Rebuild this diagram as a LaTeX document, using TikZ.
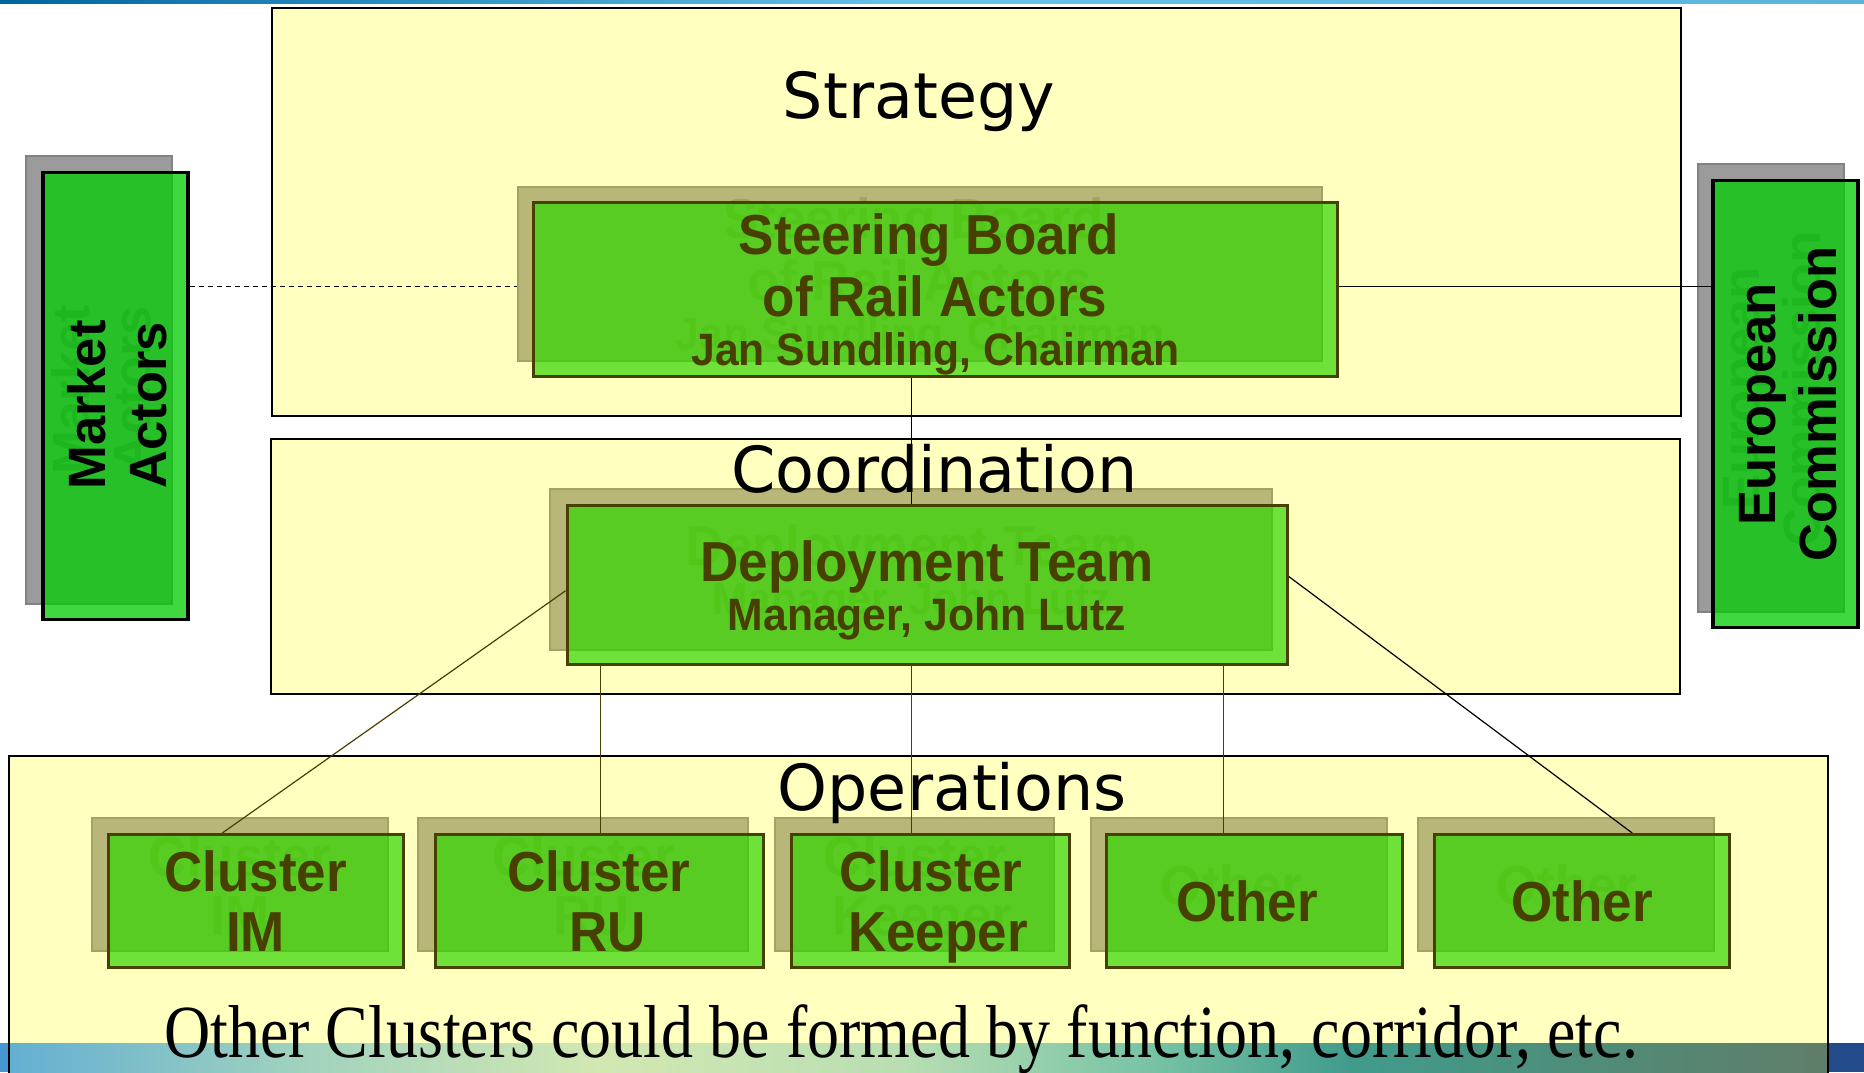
\documentclass[tikz,border=0pt]{standalone}
\usepackage{fontspec}
\setmainfont{Liberation Sans}
\newfontfamily\lblfont{DejaVu Sans}
\newfontfamily\cndfont[FakeStretch=0.94]{Liberation Sans}
\newfontfamily\mktfont{Liberation Sans}
\newfontfamily\tmsfont[FakeStretch=0.853]{Liberation Serif}
\usetikzlibrary{fit,calc}
\definecolor{tieryel}{RGB}{255,255,192}
\definecolor{railgreen}{RGB}{49,214,0}
\definecolor{railedge}{RGB}{72,64,0}
\definecolor{railshadow}{RGB}{184,182,120}
\definecolor{railshadowedge}{RGB}{165,163,100}
\definecolor{ghostolive}{RGB}{160,165,90}
\definecolor{mktgreen}{RGB}{4,204,4}
\definecolor{mktshadow}{RGB}{155,155,155}
\definecolor{mktshadowedge}{RGB}{130,130,130}
\definecolor{ghostgray}{RGB}{118,118,118}
\definecolor{tbA}{RGB}{0,100,160}
\definecolor{tbB}{RGB}{100,195,230}
\definecolor{tbC}{RGB}{90,180,220}
\definecolor{bb0}{RGB}{70,150,210}
\definecolor{bb1}{RGB}{100,175,210}
\definecolor{bb2}{RGB}{160,210,190}
\definecolor{bb3}{RGB}{210,232,178}
\definecolor{bb4}{RGB}{185,222,178}
\definecolor{bb5}{RGB}{120,195,165}
\definecolor{bb6}{RGB}{65,155,140}
\definecolor{bb7}{RGB}{80,140,120}
\definecolor{bb8}{RGB}{95,125,105}
\definecolor{bb9}{RGB}{35,75,140}
\pgfdeclarelayer{back}
\pgfdeclarelayer{shad}
\pgfdeclarelayer{conn}
\pgfsetlayers{back,shad,conn,main}
\tikzset{
  tier/.style={draw=black, line width=0.9pt, fill=tieryel, inner sep=0pt},
  tierlbl/.style={font=\lblfont\fontsize{31.75}{36}\selectfont, anchor=base, inner sep=0pt},
  railshad/.style={draw=railshadowedge, line width=1pt, fill=railshadow, inner sep=0pt},
  railbox/.style={draw=railedge, line width=1.5pt, fill=railgreen, fill opacity=0.7, inner sep=0pt},
  mktshad/.style={draw=mktshadowedge, line width=1pt, fill=mktshadow, inner sep=0pt},
  mktbox/.style={draw=black, line width=1.7pt, fill=mktgreen, fill opacity=0.76, inner sep=0pt},
  bigt/.style={font=\cndfont\bfseries\fontsize{28.2}{32}\selectfont, text=railedge, anchor=base, inner sep=0pt},
  smallt/.style={font=\cndfont\bfseries\fontsize{22.7}{26}\selectfont, text=railedge, anchor=base, inner sep=0pt},
  gbigt/.style={bigt, text=ghostolive},
  gsmallt/.style={smallt, text=ghostolive},
  mktt/.style={font=\mktfont\bfseries\fontsize{26.25}{30.5}\selectfont, text=black, rotate=90, align=center, inner sep=0pt},
  gmktt/.style={mktt, text=ghostgray},
  conn/.style={draw=black, line width=0.6pt},
  oconn/.style={draw=railedge, line width=0.6pt},
  dashconn/.style={draw=black, line width=0.6pt, dash pattern=on 2.5pt off 2pt},
  noteT/.style={font=\tmsfont\fontsize{37.5}{40}\selectfont, anchor=base, inner sep=0pt}
}
\begin{document}
\begin{tikzpicture}[x=0.5pt,y=-0.5pt]
\useasboundingbox (0,0) rectangle (1864,1072);
\begin{pgfonlayer}{back}
\fill[white] (0,0) rectangle (1864,1072);
\shade[left color=tbA, right color=tbB] (0,0) rectangle (900,3);
\shade[left color=tbB, right color=tbC] (900,0) rectangle (1864,3);
\node[tier, fit={(272.2,8.3) (1681,416)}] (strat) {};
\node[tier, fit={(271,438.7) (1679.7,694.2)}] (coord) {};
\node[tier, draw=none, fit={(9.5,757.2) (1827.2,1080)}] (ops) {};
% bottom band
\fill[bb0] (0,1043) rectangle (9.5,1072);
\shade[left color=bb1, right color=bb2] (9.5,1043) rectangle (300,1072);
\shade[left color=bb2, right color=bb3] (300,1043) rectangle (600,1072);
\shade[left color=bb3, right color=bb4] (600,1043) rectangle (900,1072);
\shade[left color=bb4, right color=bb5] (900,1043) rectangle (1150,1072);
\shade[left color=bb5, right color=bb6] (1150,1043) rectangle (1350,1072);
\shade[left color=bb6, right color=bb7] (1350,1043) rectangle (1600,1072);
\shade[left color=bb7, right color=bb8] (1600,1043) rectangle (1827.2,1072);
\fill[bb9] (1827.2,1043) rectangle (1864,1072);
\draw[black, line width=0.9pt] (ops.south west) -- (ops.north west) -- (ops.north east) -- (ops.south east);
\end{pgfonlayer}

\node[tierlbl] (stratlbl) at (919,118.9) {Strategy};
\node[tierlbl] (coordlbl) at (934.4,492) {Coordination};
\node[tierlbl] (opslbl) at (952.2,810.7) {Operations};

% shadows with their faint text
\begin{pgfonlayer}{shad}
\node[mktshad, fit={(26.2,155.7) (172.4,603.9)}] (mktsh) {};
\node[gmktt] (mktghost) at (101.5,389.5) {Market\\Actors};
\node[mktshad, fit={(1697.6,164) (1843.8,612.2)}] (ecsh) {};
\node[gmktt] (ecghost) at (1772.5,388.5) {European\\Commission};
\node[railshad, fit={(518.3,186.6) (1321.9,361.4)}] (steersh) {};
\node[gbigt] (sg1) at (913.5,238.9) {Steering Board};
\node[gbigt] (sg2) at (919.5,300.7) {of Rail Actors};
\node[gsmallt] (sg3) at (920.1,349.5) {Jan Sundling, Chairman};
\node[railshad, fit={(550.4,488.6) (1272,650.3)}] (depsh) {};
\node[gbigt] (dg1) at (911.5,565.8) {Deployment Team};
\node[gsmallt] (dg2) at (911.5,614.5) {Manager, John Lutz};
\node[railshad, fit={(91.5,817.9) (387.5,951)}] (imsh) {};
\node[gbigt] (img1) at (240.1,876.1) {Cluster};
\node[gbigt] (img2) at (240.1,935.5) {IM};
\node[railshad, fit={(418.4,817.9) (747.7,951)}] (rush) {};
\node[gbigt] (rug1) at (583.5,876.1) {Cluster};
\node[gbigt] (rug2) at (592,935.5) {RU};
\node[railshad, fit={(775.1,817.9) (1054.4,951)}] (kpsh) {};
\node[gbigt] (kpg1) at (915.3,876.1) {Cluster};
\node[gbigt] (kpg2) at (922.5,935.5) {Keeper};
\node[railshad, fit={(1091.3,817.9) (1387.3,951)}] (o1sh) {};
\node[gbigt] (o1g) at (1231.5,905.8) {Other};
\node[railshad, fit={(1418.2,817.9) (1714.2,951)}] (o2sh) {};
\node[gbigt] (o2g) at (1566.8,905.8) {Other};
\end{pgfonlayer}

% side actors
\node[mktbox, fit={(42.8,172.4) (187.8,619.4)}] (mkt) {};
\node[mktt] (mkttext) at (117,405) {Market\\Actors};
\node[mktbox, fit={(1713,180.7) (1858,627.7)}] (ec) {};
\node[mktt] (ectext) at (1788,404) {European\\Commission};

% steering board
\node[railbox, fit={(533.8,202.1) (1337.4,376.8)}] (steer) {};
\node[bigt] (st1) at (929,254.4) {Steering Board};
\node[bigt] (st2) at (935,316.2) {of Rail Actors};
\node[smallt] (st3) at (935.6,365) {Jan Sundling, Chairman};

% deployment team
\node[railbox, fit={(567,505.2) (1287.4,664.5)}] (dep) {};
\node[bigt] (dt1) at (927,581.3) {Deployment Team};
\node[smallt] (dt2) at (927,630) {Manager, John Lutz};

% clusters
\node[railbox, fit={(108.2,834.5) (403,967.7)}] (im) {};
\node[bigt] (imt1) at (255.6,891.6) {Cluster};
\node[bigt] (imt2) at (255.6,951) {IM};
\node[railbox, fit={(435.1,834.5) (763.2,967.7)}] (ru) {};
\node[bigt] (rut1) at (599,891.6) {Cluster};
\node[bigt] (rut2) at (607.5,951) {RU};
\node[railbox, fit={(791.7,834.5) (1069.9,967.7)}] (kp) {};
\node[bigt] (kpt1) at (930.8,891.6) {Cluster};
\node[bigt] (kpt2) at (938,951) {Keeper};
\node[railbox, fit={(1106.7,834.5) (1402.8,967.7)}] (o1) {};
\node[bigt] (o1t) at (1247,921.3) {Other};
\node[railbox, fit={(1434.9,834.5) (1729.7,967.7)}] (o2) {};
\node[bigt] (o2t) at (1582.3,921.3) {Other};

% connectors
\coordinate (dl) at (0,286.5);
\coordinate (vx) at (911.8,0);
\coordinate (ruX) at (600.3,0);
\coordinate (o1X) at (1223.3,0);
\coordinate (imY) at (0,590.8);
\coordinate (imX) at (222.3,0);
\coordinate (o2Y) at (0,576.6);
\coordinate (o2X) at (1632.2,0);
\begin{pgfonlayer}{conn}
\draw[dashconn] (mkt.east |- dl) -- (steersh.west |- dl);
\draw[conn] (steer.east |- dl) -- (ec.west |- dl);
\draw[conn] (steer.south -| vx) -- (dep.north -| vx);
\draw[oconn] (dep.west |- imY) -- (im.north -| imX);
\draw[oconn] (dep.south -| ruX) -- (ru.north -| ruX);
\draw[oconn] (dep.south -| vx) -- (kp.north -| vx);
\draw[oconn] (dep.south -| o1X) -- (o1.north -| o1X);
\draw[conn] (dep.east |- o2Y) -- (o2.north -| o2X);
\end{pgfonlayer}

\node[noteT] (note) at (901,1057) {Other Clusters could be formed by function, corridor, etc.};
\end{tikzpicture}
\end{document}
